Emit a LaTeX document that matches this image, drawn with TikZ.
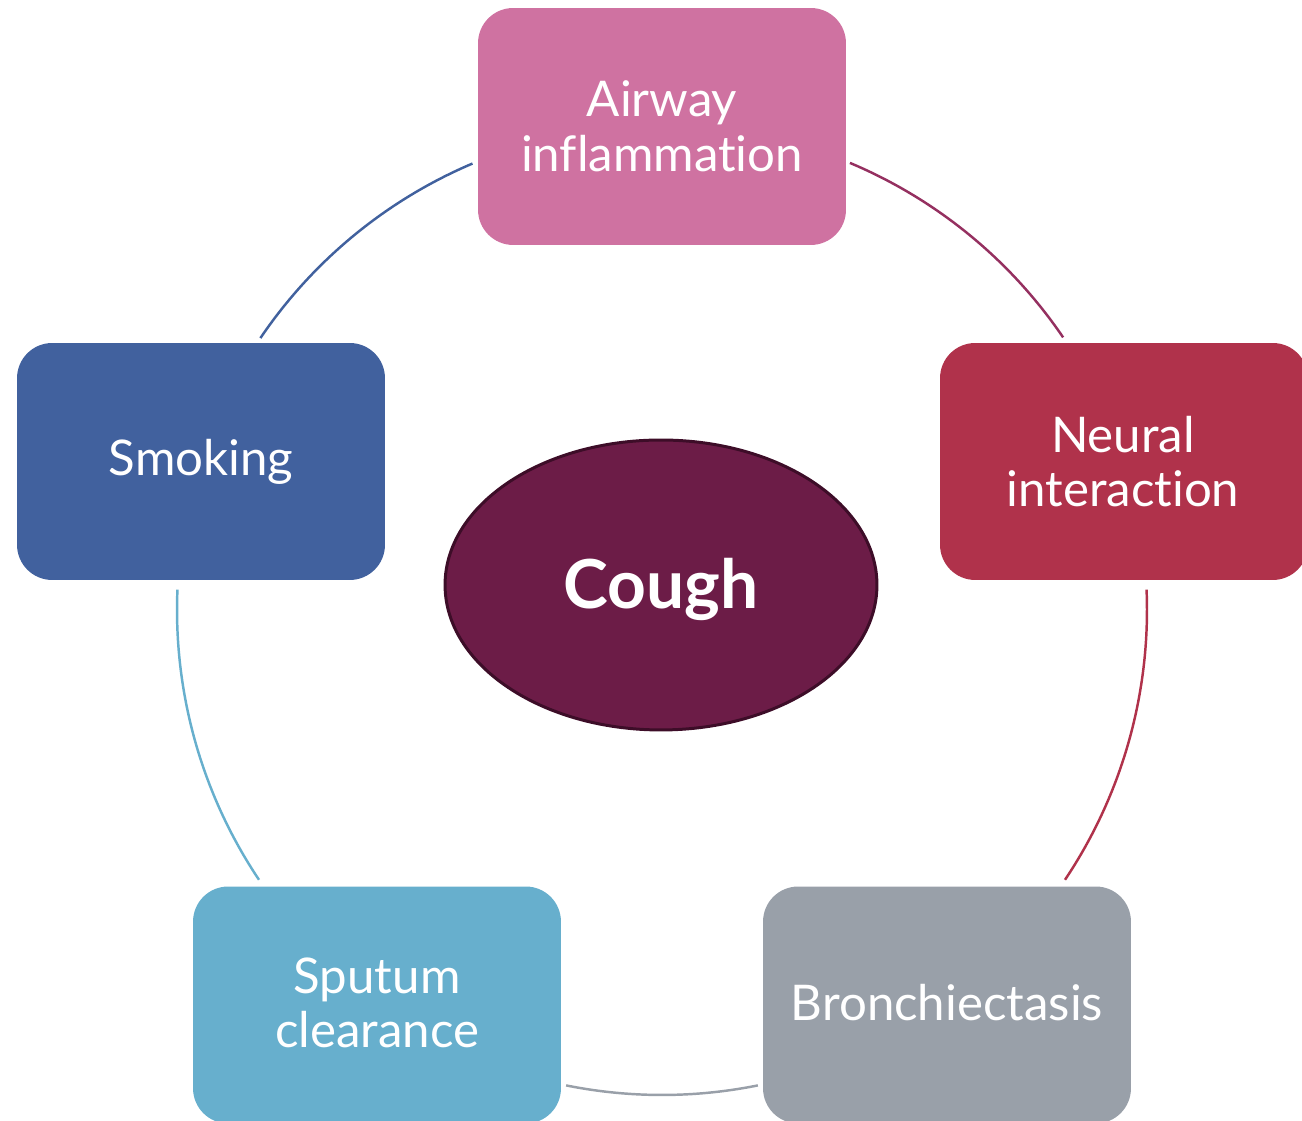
\documentclass[tikz,border=0pt]{standalone}
\usepackage{fontspec}
\setmainfont[Ligatures={NoCommon,NoRare}]{Lato}
\usetikzlibrary{shapes.geometric,calc}
\definecolor{cpink}{HTML}{CF72A1}
\definecolor{cred}{HTML}{B0324B}
\definecolor{cblue}{HTML}{41619E}
\definecolor{clight}{HTML}{67AFCD}
\definecolor{cgray}{HTML}{99A0A9}
\definecolor{cplum}{HTML}{6C1C47}
\definecolor{cplumdark}{HTML}{3D0D28}
\definecolor{carc}{HTML}{953060}
\tikzset{
  boxtext/.style={text=white, align=center, font=\fontsize{28}{31}\selectfont},
  box/.style={draw=none, rounded corners=20pt, minimum width=7.36cm, minimum height=4.74cm,
    inner sep=0pt, boxtext},
  link/.style={line width=1.4pt}
}
\begin{document}
\begin{tikzpicture}[x=0.02cm, y=0.02cm]
\useasboundingbox (0,0) rectangle (1302,1121);
\begin{scope}
\clip (0,0) rectangle (1302,1121);
\coordinate (c) at (662,511);
\def\R{485}
% arc end points
\foreach \n/\a in {a1/67.2, a2/34.2, b1/2.4, b2/-33.8, c1/-78.6, c2/-101.4, d1/-146.2, d2/177.6, e1/145.9, e2/113}
  \coordinate (\n) at ($(c)+(\a:\R)$);
\draw[link, carc] (a1) arc[start angle=67.2, end angle=34.2, radius=\R];
\draw[link, cred] (b1) arc[start angle=2.4, end angle=-33.8, radius=\R];
\draw[link, cgray] (c1) arc[start angle=-78.6, end angle=-101.4, radius=\R];
\draw[link, clight] (d1) arc[start angle=-146.2, end angle=-182.4, radius=\R];
\draw[link, cblue] (e1) arc[start angle=145.9, end angle=113, radius=\R];

\node[box, fill=cpink] (air) at (662,994.5) {Airway\\inflammation};
\node[box, fill=cred] (neu) at (1124,659.5) {};
\node[boxtext] (neut) at (1123,659.5) {Neural\\interaction};
\node[box, fill=cblue] (smk) at (201,659.5) {Smoking};
\node[box, fill=clight] (spt) at (377,116) {};
\node[boxtext] (sptt) at (377,118) {Sputum\\clearance};
\node[box, fill=cgray] (bro) at (947,116) {};
\node[boxtext] (brot) at (947,118) {Bronchiectasis};

\node[ellipse, draw=cplumdark, line width=1.7pt, fill=cplum, minimum width=8.64cm, minimum height=5.8cm,
  inner sep=0pt] (cough) at (661,536) {};
\node[text=white, font=\fontsize{38.5}{40}\selectfont\bfseries] (ct) at (661,532) {Cough};
\end{scope}
\end{tikzpicture}
\end{document}
